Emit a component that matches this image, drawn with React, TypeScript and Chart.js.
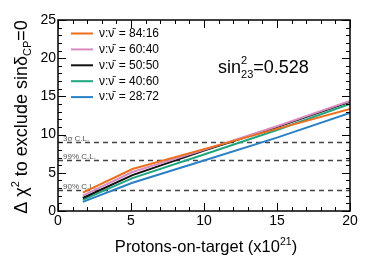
import React, { useEffect, useRef } from 'react';
import { Chart, registerables } from 'chart.js';

Chart.register(...registerables);

// ---- data ----
const potValues = [1.7, 5.1, 10, 15, 20];
const ratioLabels = ['84:16', '60:40', '50:50', '40:60', '28:72'];
const chi2_84_16 = [2.4, 5.5, 8.1, 10.75, 13.35];
const chi2_60_40 = [2.0, 5.1, 8.0, 11.1, 14.4];
const chi2_50_50 = [1.7, 4.7, 7.9, 11.0, 14.3];
const chi2_40_60 = [1.45, 4.3, 7.4, 10.6, 14.0];
const chi2_28_72 = [1.2, 3.7, 6.6, 9.6, 12.85];
const seriesColors = ['#ec6f1c', '#d98bc1', '#111111', '#1fa57f', '#2a80c4'];
const clLevels = [2.71, 6.63, 9];
const clLabels = ['90% C.L.', '99% C.L.', '3\u03c3 C.L.'];
const xTickValues = [0, 5, 10, 15, 20];
const yTickValues = [0, 5, 10, 15, 20, 25];

const FONT = '"Liberation Sans", Arial, Helvetica, sans-serif';
const allSeries = [chi2_84_16, chi2_60_40, chi2_50_50, chi2_40_60, chi2_28_72];
const NU_PREFIX = '\u03bd:\u03bd\u0304';

type Seg = { t: string; size: number; dy?: number };

function segWidth(ctx: CanvasRenderingContext2D, segs: Seg[]) {
  let w = 0;
  segs.forEach((s) => {
    ctx.font = `${s.size}px ${FONT}`;
    w += ctx.measureText(s.t).width;
  });
  return w;
}

function drawSegs(ctx: CanvasRenderingContext2D, segs: Seg[], x0: number, y0: number) {
  let x = x0;
  segs.forEach((s) => {
    ctx.font = `${s.size}px ${FONT}`;
    ctx.fillText(s.t, x, y0 + (s.dy || 0));
    x += ctx.measureText(s.t).width;
  });
}

const decor = {
  id: 'decor',
  beforeDatasetsDraw(chart: any) {
    const { ctx, scales } = chart;
    const x = scales.x;
    const y = scales.y;
    ctx.save();
    clLevels.forEach((v, i) => {
      const py = Math.round(y.getPixelForValue(v)) + 0.5;
      ctx.setLineDash([5, 4]);
      ctx.strokeStyle = '#444';
      ctx.lineWidth = 1.5;
      ctx.beginPath();
      ctx.moveTo(x.left, py);
      ctx.lineTo(x.right, py);
      ctx.stroke();
      ctx.setLineDash([]);
      ctx.fillStyle = '#555';
      ctx.font = `8px ${FONT}`;
      ctx.textAlign = 'left';
      ctx.textBaseline = 'alphabetic';
      ctx.fillText(clLabels[i], x.left + 5, py - 2);
    });
    ctx.restore();
  },
  afterDraw(chart: any) {
    const { ctx, scales } = chart;
    const x = scales.x;
    const y = scales.y;
    const L = x.left, R = x.right, T = y.top, B = y.bottom;
    ctx.save();
    ctx.strokeStyle = '#000';
    ctx.lineWidth = 1.5;
    ctx.strokeRect(L, T, R - L, B - T);
    ctx.lineWidth = 1;
    for (let v = 0; v <= 20; v += 1) {
      const px = Math.round(x.getPixelForValue(v)) + 0.5;
      const len = v % 5 === 0 ? 8 : 4;
      ctx.beginPath();
      ctx.moveTo(px, B); ctx.lineTo(px, B - len);
      ctx.moveTo(px, T); ctx.lineTo(px, T + len);
      ctx.stroke();
    }
    for (let v = 0; v <= 25; v += 1) {
      const py = Math.round(y.getPixelForValue(v)) + 0.5;
      const len = v % 5 === 0 ? 8 : 4;
      ctx.beginPath();
      ctx.moveTo(L, py); ctx.lineTo(L + len, py);
      ctx.moveTo(R, py); ctx.lineTo(R - len, py);
      ctx.stroke();
    }
    ctx.fillStyle = '#000';
    ctx.textAlign = 'left';
    ctx.textBaseline = 'alphabetic';
    // x title
    const xt: Seg[] = [
      { t: 'Protons-on-target (x10', size: 16.5 },
      { t: '21', size: 10.5, dy: -7 },
      { t: ')', size: 16.5 },
    ];
    const xw = segWidth(ctx, xt);
    drawSegs(ctx, xt, 206 - xw / 2, 252);
    // y title
    const yt: Seg[] = [
      { t: '\u0394 \u03c7', size: 18 },
      { t: '2', size: 11, dy: -8 },
      { t: ' to exclude sin\u03b4', size: 18 },
      { t: 'CP', size: 11, dy: 4 },
      { t: '=0', size: 18 },
    ];
    const yw = segWidth(ctx, yt);
    ctx.save();
    ctx.translate(27, 117);
    ctx.rotate(-Math.PI / 2);
    drawSegs(ctx, yt, -yw / 2, 0);
    ctx.restore();
    // sin^2_23 annotation
    ctx.font = `18px ${FONT}`;
    const sx = 218, sy = 73;
    ctx.fillText('sin', sx, sy);
    const sw = ctx.measureText('sin').width;
    ctx.font = `11px ${FONT}`;
    ctx.fillText('2', sx + sw, sy - 9);
    ctx.fillText('23', sx + sw, sy + 5);
    const subw = ctx.measureText('23').width;
    ctx.font = `18px ${FONT}`;
    ctx.fillText('=0.528', sx + sw + subw, sy);
    // legend
    ratioLabels.forEach((lab, i) => {
      const ry = 33.5 + i * 15.9;
      ctx.strokeStyle = seriesColors[i];
      ctx.lineWidth = 2;
      ctx.beginPath();
      ctx.moveTo(71, ry); ctx.lineTo(93, ry);
      ctx.stroke();
      ctx.fillStyle = '#000';
      ctx.font = `12px ${FONT}`;
      ctx.textBaseline = 'middle';
      ctx.fillText(NU_PREFIX, 99, ry);
      const pw = ctx.measureText('\u03bd:\u03bd').width;
      ctx.fillText(' = ' + lab, 99 + pw + 1, ry);
    });
    ctx.restore();
  },
};

export default function App() {
  const ref = useRef<HTMLCanvasElement | null>(null);
  useEffect(() => {
    if (!ref.current) return;
    const datasets = allSeries.map((vals, i) => ({
      label: NU_PREFIX + ' = ' + ratioLabels[i],
      data: potValues.map((p, j) => ({ x: p, y: vals[j] })),
      borderColor: seriesColors[i],
      backgroundColor: seriesColors[i],
      borderWidth: 2,
      pointRadius: 0,
      tension: 0,
      fill: false,
    }));
    const chart = new Chart(ref.current, {
      type: 'line',
      data: { datasets },
      options: {
        animation: false,
        responsive: false,
        devicePixelRatio: 1,
        layout: { padding: { top: 20, right: 40, left: 0, bottom: 0 } },
        plugins: { legend: { display: false }, tooltip: { enabled: false } },
        scales: {
          x: {
            type: 'linear',
            min: 0,
            max: 20,
            afterFit: (s: any) => { s.height = 54; },
            afterBuildTicks: (s: any) => { s.ticks = xTickValues.map((v) => ({ value: v })); },
            ticks: { font: { size: 14, family: FONT }, color: '#000', padding: 2, maxRotation: 0 },
            grid: { display: false, drawTicks: false },
            border: { display: false },
          },
          y: {
            type: 'linear',
            min: 0,
            max: 25,
            afterFit: (s: any) => { s.width = 58; },
            afterBuildTicks: (s: any) => { s.ticks = yTickValues.map((v) => ({ value: v })); },
            ticks: { font: { size: 14, family: FONT }, color: '#000', padding: 2 },
            grid: { display: false, drawTicks: false },
            border: { display: false },
          },
        },
      },
      plugins: [decor],
    });
    return () => chart.destroy();
  }, []);
  return (
    <div style={{ position: 'fixed', left: 0, top: 0, width: 390, height: 265, background: '#fff' }}>
      <canvas ref={ref} width={390} height={265} style={{ width: 390, height: 265 }} />
    </div>
  );
}
